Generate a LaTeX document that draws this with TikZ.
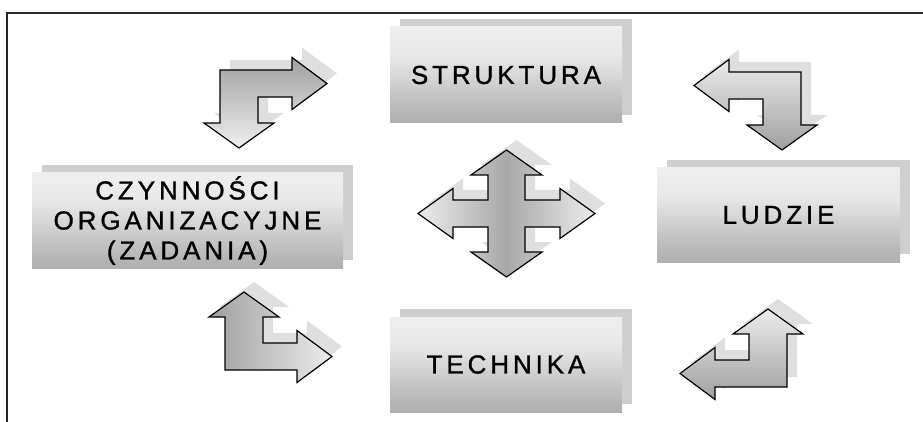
\documentclass[tikz,border=0pt]{standalone}
\usepackage{fontspec}
\newfontfamily\boxfont{Liberation Sans}[LetterSpace=15, FakeBold=1.2]
\usepackage{tikz}

% light at the top, dark at the bottom
\pgfdeclareverticalshading{boxfade}{100bp}{color(0bp)=(gray!80); color(30bp)=(gray!58); color(60bp)=(gray!18); color(100bp)=(gray!4)}

% bent double arrow: corner x, corner y, xscale, yscale, fill options
\newcommand{\bentarrow}[5]{%
  \begin{scope}[shift={(#1+10,#2-10)}, xscale=#3, yscale=#4]
    \fill[arrowback] (0,0) -- (72,0) -- (72,-12.5) -- (107,13.5) -- (72,39.5) -- (72,27) -- (38,27)
      -- (38,53) -- (54,53) -- (19,78) -- (-16,53) -- (0,53) -- cycle;
  \end{scope}
  \begin{scope}[shift={(#1,#2)}, xscale=#3, yscale=#4]
    \draw[arrowline, #5] (0,0) -- (72,0) -- (72,-12.5) -- (107,13.5) -- (72,39.5) -- (72,27) -- (38,27)
      -- (38,53) -- (54,53) -- (19,78) -- (-16,53) -- (0,53) -- cycle;
  \end{scope}}

\begin{document}
\begin{tikzpicture}[x=1pt, y=-1pt,
  every node/.style={font=\boxfont\fontsize{26}{30}\selectfont, align=center, text=black},
  box/.style={shade, shading=boxfade, minimum width=232, minimum height=96, inner sep=0pt,
    preaction={fill=gray!38, transform canvas={xshift=10pt, yshift=8pt}}},
  arrowline/.style={draw=black, line width=1.2pt, line join=miter},
  arrowback/.style={fill=gray!25}]
  \useasboundingbox (0,0) rectangle (923,422);

  % frame
  \draw[line width=1.6pt, black!85] (7,422) -- (7,13) -- (923,13);

  % the four boxes
  \node[box] (struktura) at (506,75) {STRUKTURA};
  \node[box, minimum width=311, minimum height=95] (czynnosci) at (187.5,220.5) {CZYNNOŚCI\\ORGANIZACYJNE\\(ZADANIA)};
  \node[box, minimum width=243, minimum height=94] (ludzie) at (778.5,215) {LUDZIE};
  \node[box, minimum height=95] (technika) at (506,364.5) {TECHNIKA};

  % bent arrows in the corners
  \bentarrow{220}{70}{1}{1}{top color=gray!75, bottom color=gray!12}
  \bentarrow{801}{72}{-1}{1}{top color=gray!15, bottom color=gray!75}
  \bentarrow{225}{370}{1}{-1}{left color=gray!75, right color=gray!15}
  \bentarrow{787}{387}{-1}{-1}{top color=gray!15, bottom color=gray!75}

  % four-way arrow in the middle
  \fill[arrowback, shift={(516.5,203.5)}] (-88.5,0) -- (-53.5,-25) -- (-53.5,-13.5) -- (-18.5,-13.5)
    -- (-18.5,-38.5) -- (-35.5,-38.5) -- (0,-63.5) -- (35.5,-38.5) -- (18.5,-38.5) -- (18.5,-13.5)
    -- (53.5,-13.5) -- (53.5,-25) -- (88.5,0) -- (53.5,25) -- (53.5,13.5) -- (18.5,13.5)
    -- (18.5,38.5) -- (35.5,38.5) -- (0,63.5) -- (-35.5,38.5) -- (-18.5,38.5) -- (-18.5,13.5)
    -- (-53.5,13.5) -- (-53.5,25) -- cycle;
  \draw[arrowline, left color=gray!15, right color=gray!15, middle color=gray!68, shift={(506.5,213.5)}]
    (-88.5,0) -- (-53.5,-25) -- (-53.5,-13.5) -- (-18.5,-13.5)
    -- (-18.5,-38.5) -- (-35.5,-38.5) -- (0,-63.5) -- (35.5,-38.5) -- (18.5,-38.5) -- (18.5,-13.5)
    -- (53.5,-13.5) -- (53.5,-25) -- (88.5,0) -- (53.5,25) -- (53.5,13.5) -- (18.5,13.5)
    -- (18.5,38.5) -- (35.5,38.5) -- (0,63.5) -- (-35.5,38.5) -- (-18.5,38.5) -- (-18.5,13.5)
    -- (-53.5,13.5) -- (-53.5,25) -- cycle;
\end{tikzpicture}
\end{document}
